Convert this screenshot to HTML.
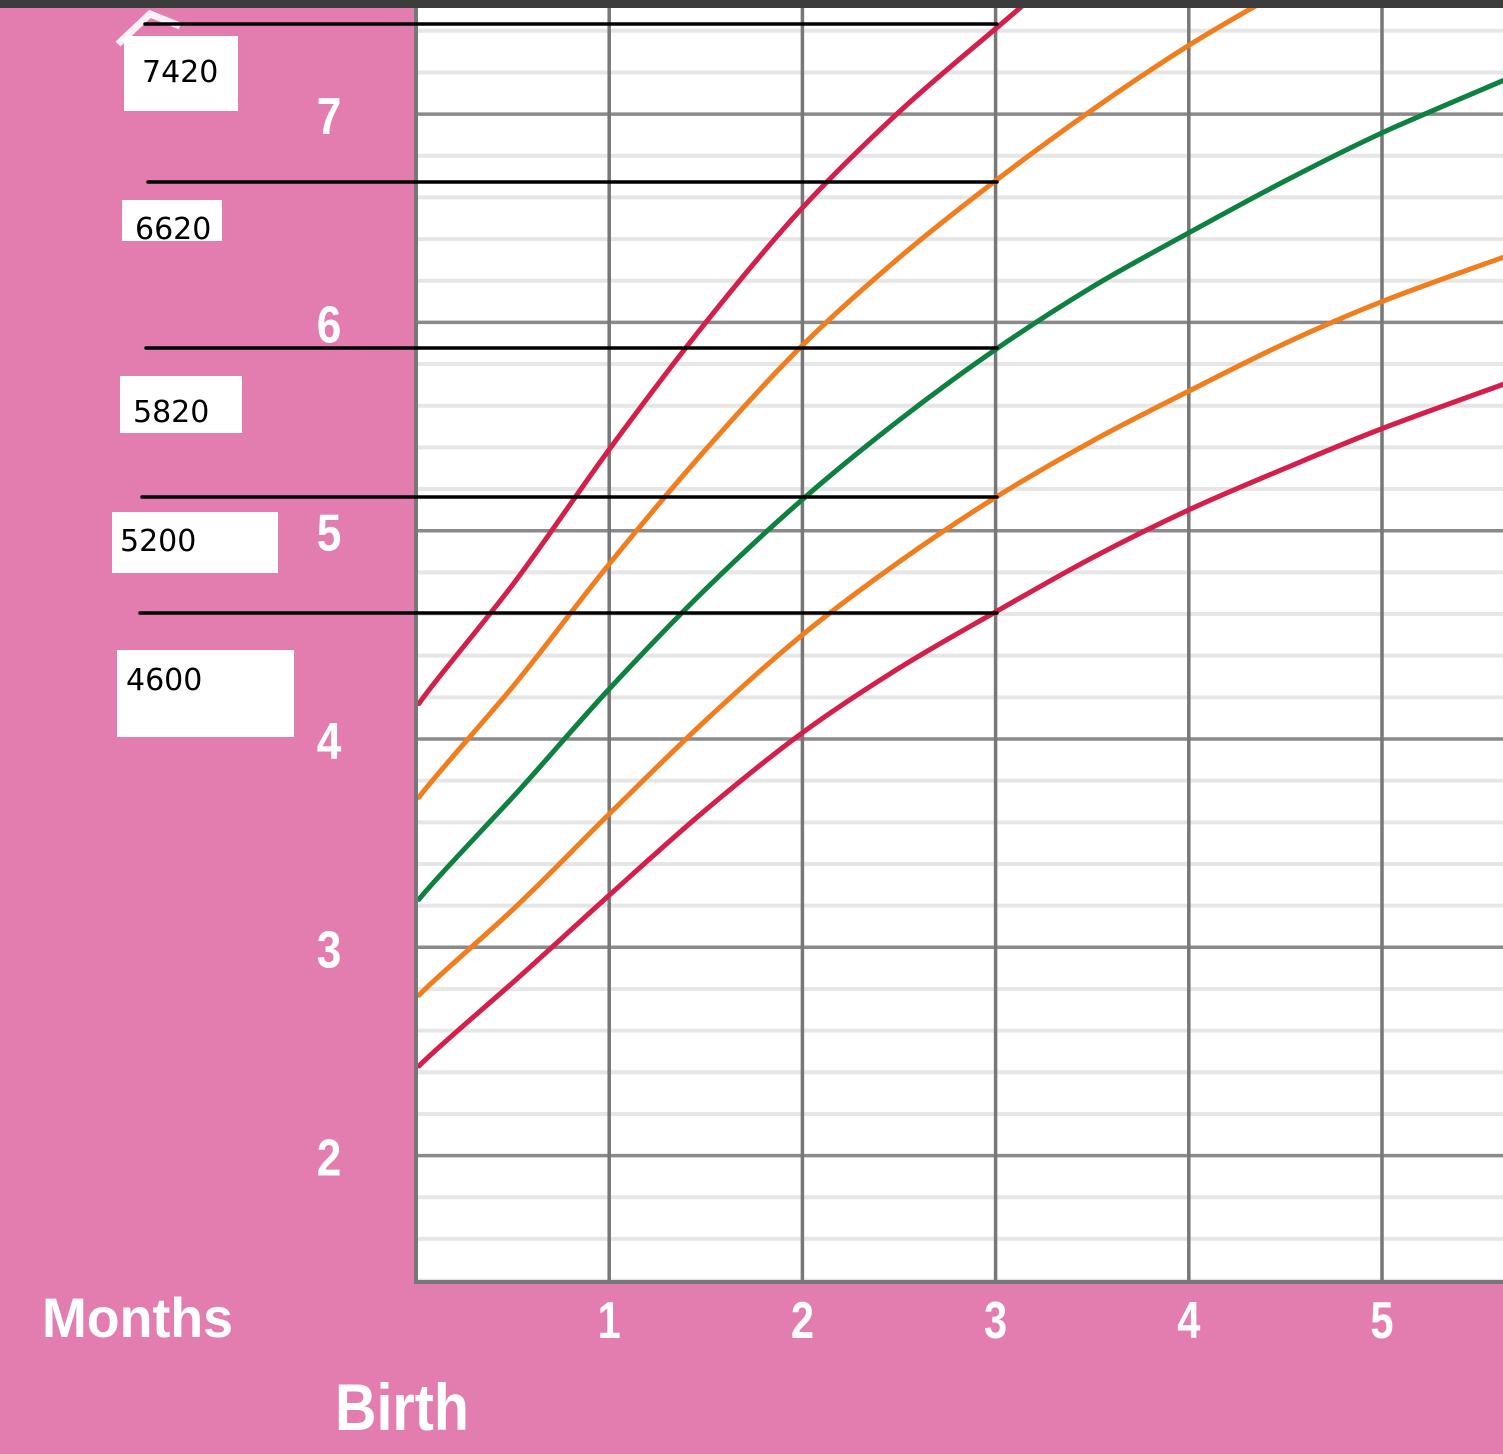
<!DOCTYPE html>
<html><head><meta charset="utf-8">
<style>
html,body{margin:0;padding:0;}
body{width:1503px;height:1454px;overflow:hidden;background:#e37db0;position:relative;font-family:"Liberation Sans",sans-serif;}
.box{position:absolute;background:#fff;overflow:hidden;}
.box span{position:absolute;font-size:30px;color:#000;font-family:"DejaVu Sans","Liberation Sans",sans-serif;line-height:1;}
</style></head>
<body>
<svg id="chart" width="1503" height="1454" style="position:absolute;left:0;top:0">
  <rect x="0" y="0" width="1503" height="8" fill="#3c3c3c"/>
  <rect x="416" y="8" width="1087" height="1275" fill="#fff"/>
  <g id="grid"></g>
  <g id="curves" clip-path="url(#clip)"></g>
  <defs><clipPath id="clip"><rect x="416" y="8" width="1087" height="1275"/></clipPath></defs>
  <line x1="416" y1="8" x2="416" y2="1284" stroke="#777" stroke-width="4"/>
  <line x1="414" y1="1282" x2="1503" y2="1282" stroke="#777" stroke-width="4"/>
  <g id="labels" fill="#fff" font-weight="bold" font-family="Liberation Sans, sans-serif"></g>
  <text x="42" y="1337" fill="#fff" font-weight="bold" font-size="56" transform="translate(42 0) scale(0.96 1) translate(-42 0)">Months</text>
  <text x="335" y="1430" fill="#fff" font-weight="bold" font-size="66" transform="translate(335 0) scale(0.87 1) translate(-335 0)">Birth</text>
  <path d="M118 44 L150 14 L180 26" stroke="#fff" stroke-width="7" fill="none" opacity="0.9"/>
  <g id="annot"></g>
</svg>
<div class="box" style="left:124px;top:36px;width:114px;height:75px"><span style="left:18px;top:22px">7420</span></div>
<div class="box" style="left:122px;top:200px;width:100px;height:41px"><span style="left:13px;top:15px">6620</span></div>
<div class="box" style="left:120px;top:376px;width:122px;height:57px"><span style="left:13px;top:22px">5820</span></div>
<div class="box" style="left:112px;top:512px;width:166px;height:61px"><span style="left:8px;top:15px">5200</span></div>
<div class="box" style="left:117px;top:650px;width:177px;height:87px"><span style="left:9px;top:16px">4600</span></div>
<script>
const months=[0,0.5,1,1.5,2,2.5,3,3.5,4,4.5,5,5.65];
const p97=[4.17,4.74,5.39,6.0,6.55,7.01,7.41,7.8,8.15,8.47,8.77,9.1];
const p85=[3.72,4.25,4.84,5.39,5.89,6.31,6.68,7.02,7.33,7.6,7.85,8.12];
const p50=[3.23,3.72,4.24,4.72,5.15,5.53,5.87,6.17,6.43,6.68,6.91,7.17];
const p15=[2.77,3.18,3.64,4.09,4.5,4.85,5.16,5.43,5.67,5.9,6.1,6.32];
const p3=[2.43,2.83,3.25,3.66,4.03,4.34,4.61,4.87,5.1,5.3,5.49,5.71];
const yTicks=[2,3,4,5,6,7];
const xTicks=[1,2,3,4,5];
const refValues=[7420,6620,5820,5200,4600];
const NS="http://www.w3.org/2000/svg";
const X=m=>416+m*193.2;
const Y=kg=>739-(kg-4)*208.3;
function mk(tag,attrs,parent){const e=document.createElementNS(NS,tag);for(const k in attrs)e.setAttribute(k,attrs[k]);parent.appendChild(e);return e;}
const grid=document.getElementById('grid');
for(let v=1.4;v<=7.6;v+=0.2){
  const r=Math.round(v*10)/10;
  if(Math.abs(r-Math.round(r))<0.01) continue;
  const l=mk('line',{x1:416,x2:1503,y1:Y(r),y2:Y(r),stroke:'#e6e6e6','stroke-width':4},grid);
  
  
}
yTicks.forEach(t=>{
  const l=mk('line',{x1:416,x2:1503,y1:Y(t),y2:Y(t),stroke:'#8a8a8a','stroke-width':3.5},grid);
  
  
});
xTicks.forEach(t=>{
  const l=mk('line',{x1:X(t),x2:X(t),y1:8,y2:1284,stroke:'#777','stroke-width':3.5},grid);
  
  
});
const labels=document.getElementById('labels');
yTicks.forEach(t=>{
  const e=mk('text',{x:329,y:Y(t)+20,'font-size':52,'text-anchor':'middle',transform:`translate(329 0) scale(0.85 1) translate(-329 0)`},labels);
  e.textContent=t;
  
  
});
xTicks.forEach(t=>{
  const x=X(t);
  const e=mk('text',{x:x,y:1338,'font-size':52,'text-anchor':'middle',transform:`translate(${x} 0) scale(0.8 1) translate(${-x} 0)`},labels);
  e.textContent=t;
  
  
});
function pathFor(vals){
  const pts=months.map((m,i)=>[X(m),Y(vals[i])]);
  let d=`M${pts[0][0]+3},${pts[0][1]}`;
  for(let i=0;i<pts.length-1;i++){
    const p0=pts[Math.max(0,i-1)],p1=pts[i],p2=pts[i+1],p3=pts[Math.min(pts.length-1,i+2)];
    const c1=[p1[0]+(p2[0]-p0[0])/6,p1[1]+(p2[1]-p0[1])/6];
    const c2=[p2[0]-(p3[0]-p1[0])/6,p2[1]-(p3[1]-p1[1])/6];
    d+=` C${c1[0]},${c1[1]} ${c2[0]},${c2[1]} ${p2[0]},${p2[1]}`;
  }
  return d;
}
const curves=document.getElementById('curves');
[[p97,'#d41f4a','percentile-97'],[p85,'#f07d1e','percentile-85'],[p50,'#0e8040','percentile-50'],[p15,'#f07d1e','percentile-15'],[p3,'#d41f4a','percentile-3']].forEach(([v,c,n])=>{
  const p=mk('path',{d:pathFor(v),stroke:c,'stroke-width':5,fill:'none','stroke-linecap':'round'},curves);
  
  
});
const annot=document.getElementById('annot');
const lineY=[24,182,348,497,613];
const lineX1=[145,148,146,142,140];
refValues.forEach((v,i)=>{
  const l=mk('line',{x1:lineX1[i],x2:997,y1:lineY[i],y2:lineY[i],stroke:'#000','stroke-width':3.5,'stroke-linecap':'round'},annot);
  
  
});
</script>
</body></html>
